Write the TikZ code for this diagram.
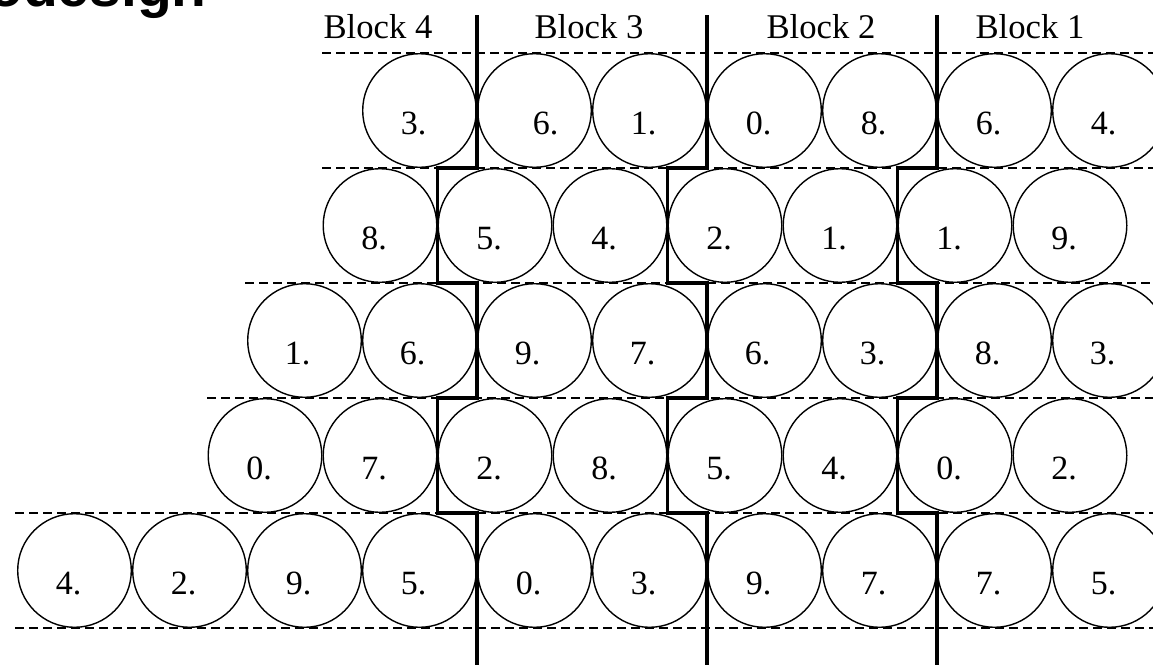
\documentclass[tikz,border=0pt]{standalone}
\usepackage{fontspec}
\setmainfont{Liberation Serif}
\setsansfont{Liberation Sans}
\begin{document}
\begin{tikzpicture}[x=0.75pt,y=-0.75pt,
  ball/.style={circle,draw,line width=1.05pt,minimum size=85.2pt,inner sep=0pt},
  num/.style={anchor=base,inner sep=0pt,font=\fontsize{25.5}{25.5}\selectfont},
  blocklabel/.style={anchor=base,inner sep=0pt,font=\fontsize{26}{26}\selectfont},
  rowline/.style={dashed,dash pattern=on 7pt off 3.5pt,line width=1pt},
  sep/.style={line width=2.5pt,line join=miter}]
\useasboundingbox (0,0) rectangle (1153,664);
\clip (0,0) rectangle (1153,664);
% title (cut off at the top)
\node[anchor=base east,inner sep=0pt,font=\sffamily\bfseries\fontsize{42.75}{42.75}\selectfont] (title) at (207,6) {Codesign};
% block labels
\node[blocklabel] (b4) at (378,38.3) {Block 4};
\node[blocklabel] (b3) at (589,38.3) {Block 3};
\node[blocklabel] (b2) at (821,38.3) {Block 2};
\node[blocklabel] (b1) at (1030,38.3) {Block 1};
% dashed row lines
\draw[rowline] (322,53) -- (1160,53);
\draw[rowline] (322,168) -- (1160,168);
\draw[rowline] (245,283) -- (1160,283);
\draw[rowline] (207,398) -- (1160,398);
\draw[rowline] (15,513) -- (1160,513);
\draw[rowline] (15,628) -- (1160,628);
% row 1
\foreach \v/\dx [count=\i from 0] in {3/-6,6/11,1/-6,0/-6,8/-6,6/-6,4/-6} {
  \node[ball] (a\i) at ({419.5+115*\i},110.5) {};
  \node[num] (la\i) at ({419.5+115*\i+\dx},134) {\v.};
}
% row 2
\foreach \v [count=\i from 0] in {8,5,4,2,1,1,9} {
  \node[ball] (b\i) at ({380+115*\i},225.5) {};
  \node[num] (lb\i) at ({380+115*\i-6},249) {\v.};
}
% row 3
\foreach \v [count=\i from 0] in {1,6,9,7,6,3,8,3} {
  \node[ball] (c\i) at ({304.5+115*\i},340.5) {};
  \node[num] (lc\i) at ({304.5+115*\i-7},364) {\v.};
}
% row 4
\foreach \v [count=\i from 0] in {0,7,2,8,5,4,0,2} {
  \node[ball] (d\i) at ({265+115*\i},455.5) {};
  \node[num] (ld\i) at ({265+115*\i-6},479) {\v.};
}
% row 5
\foreach \v [count=\i from 0] in {4,2,9,5,0,3,9,7,7,5} {
  \node[ball] (e\i) at ({74.5+115*\i},570.5) {};
  \node[num] (le\i) at ({74.5+115*\i-6},594) {\v.};
}
% block separators
\foreach \X in {477,707,937} {
  \draw[sep] (\X,15) -- (\X,168) -- ({\X-39.5},168) -- ({\X-39.5},283) -- (\X,283)
    -- (\X,398) -- ({\X-39.5},398) -- ({\X-39.5},513) -- (\X,513) -- (\X,670);
}
\end{tikzpicture}
\end{document}
